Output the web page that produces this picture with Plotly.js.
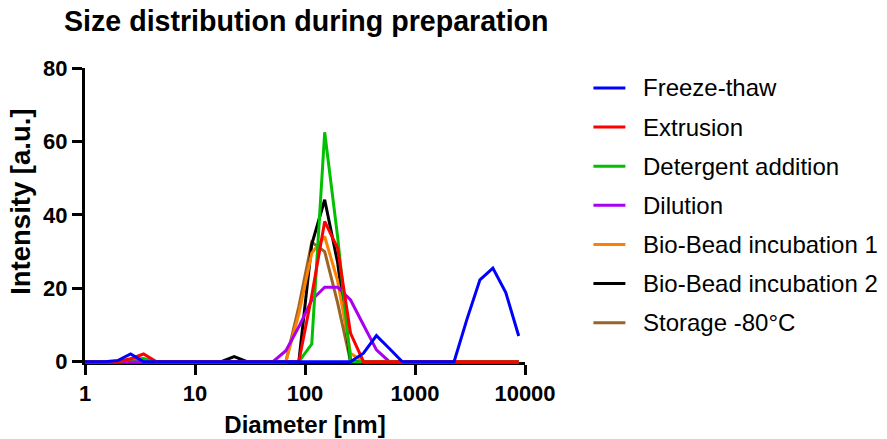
<!DOCTYPE html>
<html>
<head>
<meta charset="utf-8">
<script src="https://cdn.plot.ly/plotly-3.0.1.min.js"></script>
<style>
  html, body { margin: 0; padding: 0; background: #ffffff; }
  #chart { width: 887px; height: 439px; }
</style>
</head>
<body>
<div id="chart"></div>
<script>
// Hydrodynamic diameter bins (nm), log-spaced
const diameterNm = [0.880, 1.154, 1.513, 1.983, 2.600, 3.409, 4.469, 5.859, 7.680, 10.07,
  13.20, 17.31, 22.69, 29.74, 38.99, 51.12, 67.02, 87.87, 115.2, 151.0,
  198.0, 259.6, 340.3, 446.1, 584.8, 766.7, 1005, 1318, 1728, 2265,
  2969, 3893, 5104, 6691, 8770];

// Scattering intensity per bin for each preparation step
const freezeThaw = [0, 0, 0, 0.3, 2.1, 0, 0, 0, 0, 0,
  0, 0, 0, 0, 0, 0, 0, 0, 0, 0,
  0, 0, 2.3, 7.1, 3.6, 0, 0, 0, 0, 0,
  11.6, 22.3, 25.5, 18.8, 7.0];
const extrusion = [0, 0, 0, 0, 0.8, 2.1, 0, 0, 0, 0,
  0, 0, 0, 0, 0, 0, 0, 0, 18.0, 38.2,
  30.9, 7.7, 0, 0, 0, 0, 0, 0, 0, 0,
  0, 0, 0, 0, 0];
const detergentAddition = [0, 0, 0, 0, 0.7, 0.9, 0, 0, 0, 0,
  0, 0, 0, 0, 0, 0, 0, 0, 4.8, 62.5,
  34.0, 0, 0, 0, 0, 0, 0, 0, 0, 0,
  0, 0, 0, 0, 0];
const dilution = [0, 0, 0, 0, 0, 0, 0, 0, 0, 0,
  0, 0, 0, 0, 0, 0, 3.0, 9.5, 16.8, 20.3,
  20.3, 16.8, 10.0, 3.2, 0, 0, 0, 0, 0, 0,
  0, 0, 0, 0, 0];
const bioBead1 = [0, 0, 0, 0, 0, 0, 0, 0, 0, 0,
  0, 0, 0, 0, 0, 0, 0, 13.0, 29.6, 34.1,
  22.0, 2.3, 0, 0, 0, 0, 0, 0, 0, 0,
  0, 0, 0, 0, 0];
const bioBead2 = [0, 0, 0, 0, 0, 0.3, 0, 0, 0, 0,
  0, 0, 1.4, 0, 0, 0, 0, 0, 32.0, 44.1,
  27.0, 0, 0, 0, 0, 0, 0, 0, 0, 0,
  0, 0, 0, 0, 0];
const storage80 = [0, 0, 0, 0, 0, 0, 0, 0, 0, 0,
  0, 0, 0, 0, 0, 0, 0, 15.0, 32.5, 30.0,
  16.0, 0, 0, 0, 0, 0, 0, 0, 0, 0,
  0, 0, 0, 0, 0];

const seriesNames = ['Freeze-thaw', 'Extrusion', 'Detergent addition', 'Dilution',
  'Bio-Bead incubation 1', 'Bio-Bead incubation 2', 'Storage -80°C'];
const seriesValues = [freezeThaw, extrusion, detergentAddition, dilution, bioBead1, bioBead2, storage80];

const xTickVals = [1, 10, 100, 1000, 10000];
const xTickText = ['1', '10', '100', '1000', '10000'];
const yTickVals = [0, 20, 40, 60, 80];
const yTickText = ['0', '20', '40', '60', '80'];

const lineColors = ['#0000FF', '#FF0000', '#00C000', '#AA00EE', '#FF8000', '#000000', '#9A6428'];

// ---- geometry (pixels) ----
const W = 887, H = 439;
const plotLeft = 85, plotRight = 525.5;
const yTopPx = 68.4, yZeroPx = 361.7, dataBottomPx = 368;
const plotW = plotRight - plotLeft;
const plotH = dataBottomPx - yTopPx;
const yMax = 80;
const pxPerUnit = (yZeroPx - yTopPx) / yMax;
const px2x = px => (px - plotLeft) / plotW;
const py2y = py => (dataBottomPx - py) / plotH;

const FONT = 'Arial, "Liberation Sans", Helvetica, sans-serif';

// empty trace so the visible x/y axis pair gets its own subplot
const traces = [{
  type: 'scatter', mode: 'lines', x: [], y: [],
  xaxis: 'x', yaxis: 'y', showlegend: false, hoverinfo: 'skip'
}];

// curves live on a twin y axis that reaches a few pixels below zero,
// so the zero baselines are not clipped; later series sit underneath
for (let i = seriesNames.length - 1; i >= 0; i--) {
  traces.push({
    type: 'scatter',
    mode: 'lines',
    name: seriesNames[i],
    x: diameterNm,
    y: seriesValues[i],
    xaxis: 'x',
    yaxis: 'y2',
    line: { color: lineColors[i], width: 3 },
    hoverinfo: 'x+y+name',
    showlegend: false
  });
}

// hand-built legend at the right
const legendTop = 88.3, legendStep = 39.07;
const shapes = [];
const annotations = [];
seriesNames.forEach((name, i) => {
  const cy = legendTop + i * legendStep;
  shapes.push({
    type: 'line', xref: 'paper', yref: 'paper',
    x0: px2x(594), x1: px2x(626), y0: py2y(cy), y1: py2y(cy),
    line: { color: lineColors[i], width: 3 }
  });
  annotations.push({
    xref: 'paper', yref: 'paper', x: px2x(642), y: py2y(cy),
    xanchor: 'left', yanchor: 'middle', showarrow: false,
    text: name,
    font: { family: FONT, size: 24, color: '#000000' }
  });
});

// y-axis title
annotations.push({
  xref: 'paper', yref: 'paper', x: px2x(21), y: py2y(202),
  xanchor: 'center', yanchor: 'middle', showarrow: false, textangle: -90,
  text: 'Intensity [a.u.]',
  font: { family: FONT, size: 27.5, weight: 'bold', color: '#000000' }
});

const layout = {
  width: W, height: H,
  margin: { l: plotLeft, r: W - plotRight, t: yTopPx, b: H - dataBottomPx, pad: 0 },
  paper_bgcolor: '#ffffff',
  plot_bgcolor: 'rgba(0,0,0,0)',
  showlegend: false,
  title: {
    text: 'Size distribution during preparation',
    font: { family: FONT, size: 28.6, weight: 'bold', color: '#000000' },
    xref: 'container', x: 64 / W, xanchor: 'left',
    yref: 'container', y: 1 - 21 / H, yanchor: 'middle'
  },
  xaxis: {
    type: 'log', range: [0, 4], anchor: 'y',
    showline: true, linewidth: 3, linecolor: '#000000',
    ticks: 'outside', ticklen: 10, tickwidth: 3, tickcolor: '#000000',
    tickmode: 'array', tickvals: xTickVals, ticktext: xTickText,
    tickfont: { family: FONT, size: 22, weight: 'bold', color: '#000000' },
    showgrid: false, zeroline: false,
    title: { text: 'Diameter [nm]', font: { family: FONT, size: 24, weight: 'bold', color: '#000000' }, standoff: 12 }
  },
  yaxis: {
    domain: [(dataBottomPx - yZeroPx) / plotH, 1],
    range: [0, yMax], anchor: 'x',
    showline: true, linewidth: 3, linecolor: '#000000',
    ticks: 'outside', ticklen: 10, tickwidth: 3, tickcolor: '#000000',
    tickmode: 'array', tickvals: yTickVals, ticktext: yTickText,
    tickfont: { family: FONT, size: 22, weight: 'bold', color: '#000000' },
    showgrid: false, zeroline: false
  },
  yaxis2: {
    domain: [0, 1],
    range: [-(dataBottomPx - yZeroPx) / pxPerUnit, yMax],
    anchor: 'x', visible: false, showgrid: false, zeroline: false
  },
  shapes: shapes,
  annotations: annotations
};

Plotly.newPlot('chart', traces, layout, { displayModeBar: false });
</script>
</body>
</html>
